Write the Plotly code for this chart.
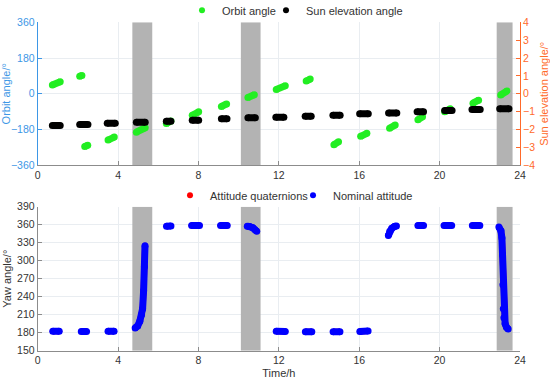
import plotly.graph_objects as go

# ---------------- data ----------------
# Orbit angle (deg): each dash = start/end time (h) and start/end value
orbit_t0 = [0.73, 2.09, 2.34, 3.50, 4.91, 6.40, 7.69, 9.14, 10.46, 11.87, 13.36, 14.74, 16.07, 17.51, 18.92, 20.25, 21.66, 23.04]
orbit_t1 = [1.12, 2.20, 2.49, 3.81, 5.35, 6.63, 8.01, 9.40, 10.78, 12.32, 13.56, 14.97, 16.38, 17.79, 19.15, 20.53, 21.94, 23.35]
orbit_v0 = [44, 88, -265, -233, -193, -150, -108, -64, -19, 22, 64, -256, -214, -174, -131, -91, -47, -6]
orbit_v1 = [61, 92, -259, -218, -171, -137, -91, -51, -5, 40, 74, -242, -199, -157, -116, -75, -32, 14]

# Sun elevation angle (deg): start/end time (h) and value
sun_t0 = [0.73, 2.09, 3.46, 4.91, 6.40, 7.69, 9.14, 10.46, 11.85, 13.31, 14.69, 16.02, 17.46, 18.88, 20.25, 21.61, 22.99]
sun_t1 = [1.12, 2.50, 3.86, 5.35, 6.63, 8.01, 9.42, 10.83, 12.25, 13.61, 15.05, 16.45, 17.87, 19.20, 20.62, 22.02, 23.45]
sun_v = [-1.77, -1.72, -1.65, -1.59, -1.53, -1.48, -1.40, -1.34, -1.31, -1.25, -1.20, -1.12, -1.07, -1.01, -0.94, -0.88, -0.83]

# Yaw angle (deg): pieces of (time, value) points
yaw_t = [
    [0.75, 1.07], [2.17, 2.43], [3.50, 3.80],
    [4.85, 4.97, 5.08, 5.17, 5.22, 5.27, 5.31, 5.34],
    [6.41, 6.63], [7.66, 8.05], [9.10, 9.43],
    [10.43, 10.55, 10.70, 10.80, 10.90],
    [11.87, 12.32], [13.32, 13.64], [14.70, 15.04], [16.03, 16.44],
    [17.45, 17.52, 17.62, 17.75, 17.85],
    [18.92, 19.20], [20.22, 20.60], [21.63, 22.00],
    [22.95, 23.05, 23.10, 23.13, 23.15, 23.17, 23.20, 23.26, 23.33, 23.41],
]
yaw_v = [
    [182.5, 182.5], [182, 182], [182.5, 182.5],
    [188, 191, 199, 210, 220, 250, 290, 325],
    [357.5, 358], [358.5, 358.5], [358.5, 358.5],
    [357.5, 357, 355, 352, 349],
    [182.5, 182], [181.5, 181.5], [181.5, 181.5], [182, 183],
    [342, 349, 354, 357, 358],
    [358.5, 358.5], [358.5, 358.5], [358.5, 358.5],
    [356, 350, 338, 310, 260, 220, 205, 195, 189, 186],
]

# Shaded (eclipse) intervals, h
band_start = [4.71, 10.11, 22.84]
band_end = [5.70, 11.09, 23.63]

x_range = [0, 24]
orbit_range = [-360, 360]
sun_range = [-4, 4]
yaw_range = [150, 390]
x_ticks = [0, 4, 8, 12, 16, 20, 24]
orbit_ticks = [-360, -180, 0, 180, 360]
sun_ticks = [-4, -3, -2, -1, 0, 1, 2, 3, 4]
yaw_ticks = [150, 180, 210, 240, 270, 300, 330, 360, 390]

# ---------------- styles ----------------
GREEN = "#22ee22"
BLUE_AX = "#3d97e6"
ORANGE = "#ff6a2a"
GRID = "#e9edf1"
BAND = "#b3b3b3"
FONT = "Liberation Sans, Arial, sans-serif"
TXT = "#333333"


def seg_xy(t0, t1, v0, v1):
    xs, ys = [], []
    for a, b, c, d in zip(t0, t1, v0, v1):
        xs += [a, b, None]
        ys += [c, d, None]
    return xs, ys


def piece_xy(ts, vs):
    xs, ys = [], []
    for a, b in zip(ts, vs):
        xs += list(a) + [None]
        ys += list(b) + [None]
    return xs, ys


def band_xy(yr):
    xs, ys = [], []
    for a, b in zip(band_start, band_end):
        xs += [a, b, b, a, a, None]
        ys += [yr[0], yr[0], yr[1], yr[1], yr[0], None]
    return xs, ys


fig = go.Figure()

# shaded bands (drawn first, under data, over gridlines)
bx, by = band_xy(orbit_range)
fig.add_trace(go.Scatter(x=bx, y=by, mode="lines", fill="toself", fillcolor=BAND,
                         line=dict(width=0, color=BAND), xaxis="x", yaxis="y",
                         showlegend=False, hoverinfo="skip"))
bx, by = band_xy(yaw_range)
fig.add_trace(go.Scatter(x=bx, y=by, mode="lines", fill="toself", fillcolor=BAND,
                         line=dict(width=0, color=BAND), xaxis="x2", yaxis="y3",
                         showlegend=False, hoverinfo="skip"))

ox, oy = seg_xy(orbit_t0, orbit_t1, orbit_v0, orbit_v1)
fig.add_trace(go.Scatter(x=ox, y=oy, mode="lines+markers", xaxis="x", yaxis="y",
                         line=dict(color=GREEN, width=7), marker=dict(color=GREEN, size=7),
                         showlegend=False, hoverinfo="skip"))
sx, sy = seg_xy(sun_t0, sun_t1, sun_v, sun_v)
fig.add_trace(go.Scatter(x=sx, y=sy, mode="lines+markers", xaxis="x", yaxis="y2",
                         line=dict(color="black", width=7), marker=dict(color="black", size=7),
                         showlegend=False, hoverinfo="skip"))
yx, yy = piece_xy(yaw_t, yaw_v)
fig.add_trace(go.Scatter(x=yx, y=yy, mode="lines+markers", xaxis="x2", yaxis="y3",
                         line=dict(color="red", width=6), marker=dict(color="red", size=6),
                         showlegend=False, hoverinfo="skip"))
fig.add_trace(go.Scatter(x=yx, y=yy, mode="lines+markers", xaxis="x2", yaxis="y3",
                         line=dict(color="blue", width=7), marker=dict(color="blue", size=7),
                         showlegend=False, hoverinfo="skip"))

# legend entries (one legend box per entry for exact placement)
fig.add_trace(go.Scatter(x=[None], y=[None], mode="markers", name="Orbit angle",
                         marker=dict(color=GREEN, size=6), xaxis="x", yaxis="y", legend="legend"))
fig.add_trace(go.Scatter(x=[None], y=[None], mode="markers", name="Sun elevation angle",
                         marker=dict(color="black", size=6), xaxis="x", yaxis="y", legend="legend2"))
fig.add_trace(go.Scatter(x=[None], y=[None], mode="markers", name="Attitude quaternions",
                         marker=dict(color="red", size=6), xaxis="x2", yaxis="y3", legend="legend3"))
fig.add_trace(go.Scatter(x=[None], y=[None], mode="markers", name="Nominal attitude",
                         marker=dict(color="blue", size=6), xaxis="x2", yaxis="y3", legend="legend4"))

XD = [37.7 / 550, 520 / 550]
TOP = [1 - 165.3 / 381, 1 - 22.3 / 381]
BOT = [1 - 350.7 / 381, 1 - 206.7 / 381]

common_x = dict(range=x_range, tickvals=x_ticks, ticks="inside", ticklen=4, showgrid=True,
                gridcolor=GRID, zeroline=False, showline=True, linecolor="#8c8c8c",
                tickcolor="#8c8c8c", tickfont=dict(size=10.5, color=TXT, family=FONT), domain=XD,
                automargin=False)


def leg(xpix, ypix):
    return dict(orientation="h", x=(xpix - 23) / 550, xanchor="left", y=1 - ypix / 381,
                yanchor="middle", bgcolor="rgba(0,0,0,0)",
                font=dict(size=11, color=TXT, family=FONT))


fig.update_layout(
    template="none",
    width=550, height=381,
    margin=dict(l=0, r=0, t=0, b=0, autoexpand=False),
    paper_bgcolor="white", plot_bgcolor="white",
    font=dict(family=FONT, size=10.5, color=TXT),
    xaxis=dict(anchor="y", **common_x),
    yaxis=dict(domain=TOP, anchor="x", range=orbit_range, tickvals=orbit_ticks, ticks="inside",
               ticklen=4, showgrid=True, gridcolor=GRID, zeroline=False, showline=True,
               linecolor=BLUE_AX, tickcolor=BLUE_AX, automargin=False,
               tickfont=dict(size=10.5, color=BLUE_AX, family=FONT),
               title=dict(text="Orbit angle/°", font=dict(size=11, color=BLUE_AX, family=FONT), standoff=3)),
    yaxis2=dict(overlaying="y", side="right", anchor="x", range=sun_range, tickvals=sun_ticks,
                ticks="inside", ticklen=4, showgrid=False, zeroline=False, showline=True,
                linecolor=ORANGE, tickcolor=ORANGE, automargin=False,
                tickfont=dict(size=10.5, color=ORANGE, family=FONT),
                title=dict(text="Sun elevation angle/°", font=dict(size=11, color=ORANGE, family=FONT), standoff=6)),
    xaxis2=dict(anchor="y3", title=dict(text="Time/h", font=dict(size=11, color=TXT, family=FONT), standoff=4),
                **common_x),
    yaxis3=dict(domain=BOT, anchor="x2", range=yaw_range, tickvals=yaw_ticks, ticks="inside",
                ticklen=4, showgrid=True, gridcolor=GRID, zeroline=False, showline=True,
                linecolor="#8c8c8c", tickcolor="#8c8c8c", automargin=False,
                tickfont=dict(size=10.5, color=TXT, family=FONT),
                title=dict(text="Yaw angle/°", font=dict(size=11, color=TXT, family=FONT), standoff=3)),
    legend=leg(205, 10.3),
    legend2=leg(289, 10.3),
    legend3=leg(193, 195.3),
    legend4=leg(316, 195.3),
)

fig.write_html("out.html", config={"displayModeBar": False},
               post_script="document.body.style.margin='0';")
